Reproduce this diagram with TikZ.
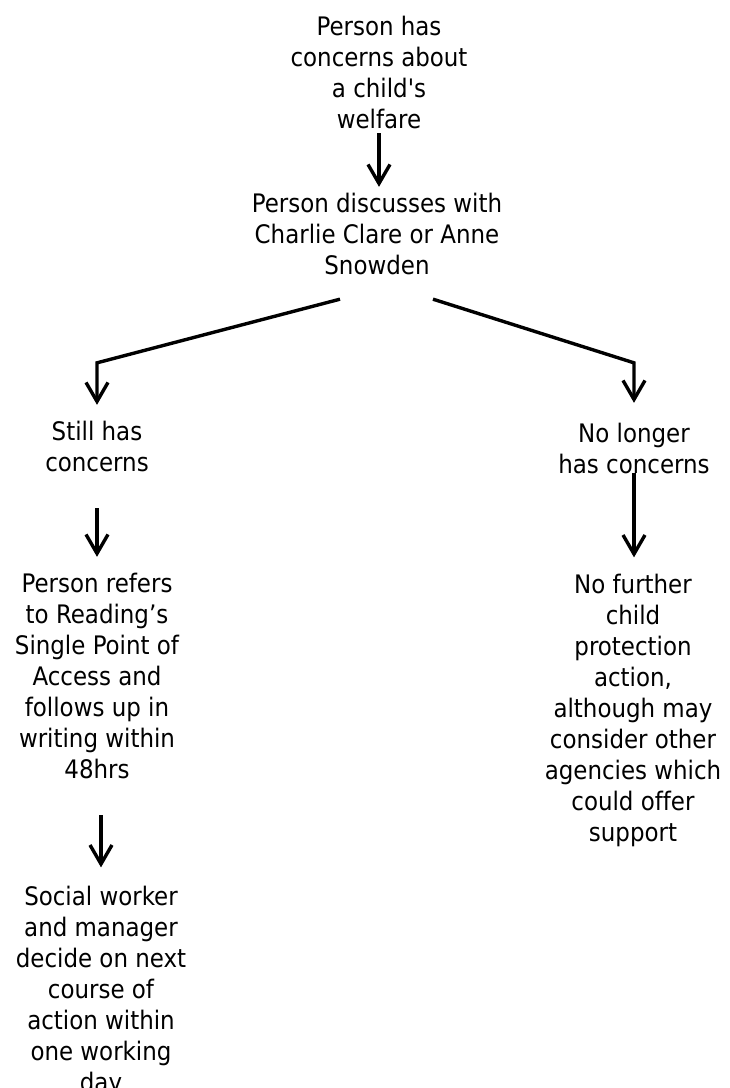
\documentclass[tikz,border=0pt]{standalone}
\usepackage{fontspec}
\newfontfamily\diagfont{DejaVu Sans Condensed}[Ligatures=NoCommon]
\usetikzlibrary{arrows.meta}
\begin{document}
\begin{tikzpicture}[x=1pt,y=-1pt,
  txt/.style={align=center,inner sep=0pt,outer sep=0pt,font=\diagfont\fontsize{25.5}{31}\selectfont},
  arr/.style={line width=3.4pt,-{Straight Barb[length=19pt,width=22pt]}},
  ]
\useasboundingbox (0,0) rectangle (730,1088);
\clip (0,0) rectangle (730,1088);
\fill[white] (0,0) rectangle (730,1088);

\node[txt] (n1) at (379,72) {Person has\\concerns about\\a child's\\welfare};
\node[txt] (n2) at (377,234.3) {Person discusses with\\Charlie Clare or Anne\\Snowden};
\node[txt] (still) at (97,446.8) {Still has\\concerns};
\node[txt] (noconc) at (634,448.8) {No longer\\has concerns};
\node[txt] (refer) at (97,676.3) {Person refers\\to Reading’s\\Single Point of\\Access and\\follows up in\\writing within\\48hrs};
\node[txt] (further) at (633,710.3) {No further\\child\\protection\\action,\\although may\\consider other\\agencies which\\could offer\\support};
\node[txt] (social) at (101,991.3) {Social worker\\and manager\\decide on next\\course of\\action within\\one working\\day};

\draw[arr,shorten <=5pt,shorten >=6.6pt] (n1.south) -- (n1.south |- n2.north);
\draw[arr,shorten >=16.6pt] ([shift={(-37,24)}]n2.south) -- ([yshift=58.6pt]still.north) -- (still.north);
\draw[arr,shorten >=20.6pt] ([shift={(56,24)}]n2.south) -- ([yshift=60.6pt]noconc.north) -- (noconc.north);
\draw[arr,shorten <=36pt,shorten >=16.6pt] (still.south) -- (still.south |- refer.north);
\draw[arr,shorten <=-1pt,shorten >=16.6pt] (noconc.south) -- (noconc.south |- further.north);
\draw[arr,shorten <=36pt,shorten >=18.6pt] (social.north |- refer.south) -- (social.north);
\end{tikzpicture}
\end{document}
